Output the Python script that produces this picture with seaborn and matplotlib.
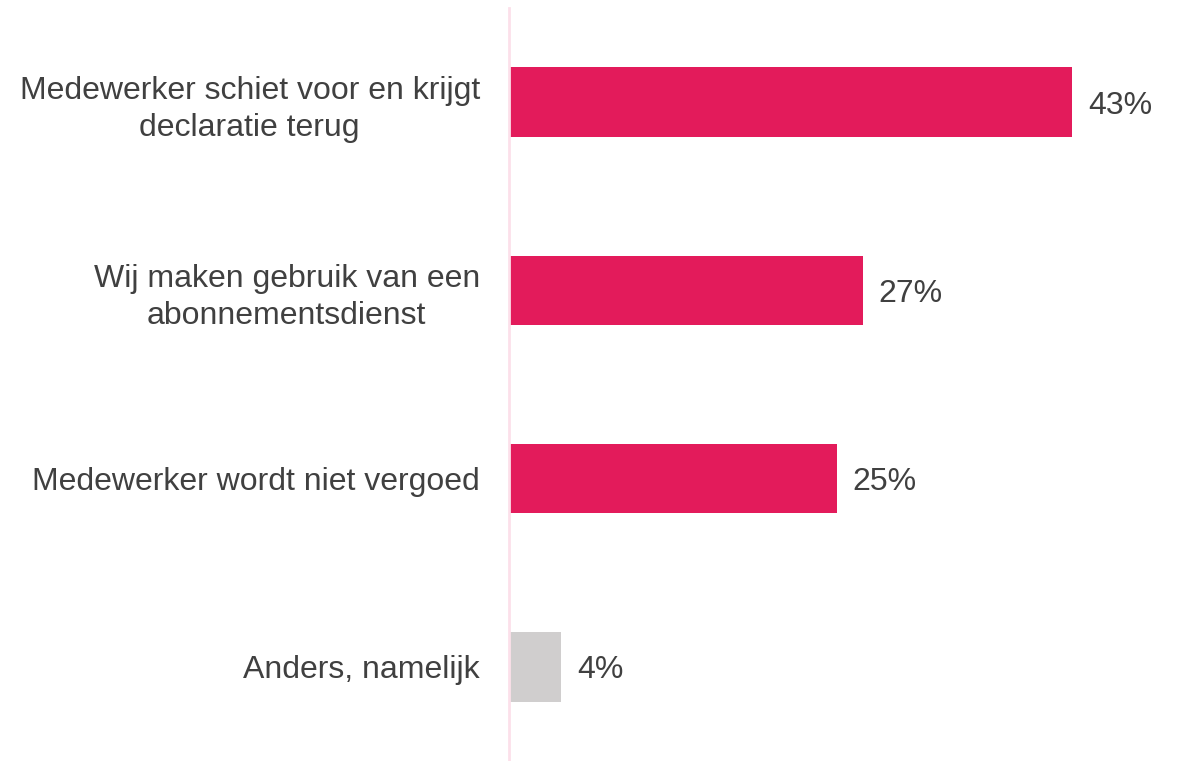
import matplotlib
matplotlib.use("Agg")
import matplotlib.pyplot as plt
import seaborn as sns
import pandas as pd

# data
categories = [
    "Medewerker schiet voor en krijgt\ndeclaratie terug",
    "Wij maken gebruik van een\nabonnementsdienst",
    "Medewerker wordt niet vergoed",
    "Anders, namelijk",
]
values = [43, 27, 25, 4]
colors = ["#E31B5B", "#E31B5B", "#E31B5B", "#D0CECE"]

df = pd.DataFrame({"cat": categories, "val": values})

sns.set_theme(style="white")
plt.rcParams["font.family"] = ["Liberation Sans", "DejaVu Sans"]

fig = plt.figure(figsize=(11.81, 7.61), dpi=100)
ax = fig.add_axes([509 / 1181, 0.0, (1164 - 509) / 1181, 753 / 761])

sns.barplot(data=df, x="val", y="cat", hue="cat", palette=colors,
            legend=False, width=0.37, ax=ax, saturation=1, linewidth=0)

ax.set_xlim(0, 50)
ax.set_ylim(3.5, -0.5)

# value labels
for i, v in enumerate(values):
    ax.text(v + 1.2, i, f"{v}%", va="center_baseline", ha="left",
            fontsize=23, color="#404040")

ax.set_xlabel("")
ax.set_ylabel("")
ax.set_xticks([])
for s in ["top", "right", "bottom"]:
    ax.spines[s].set_visible(False)
ax.spines["left"].set_color("#FCE0EA")
ax.spines["left"].set_linewidth(2)
ax.tick_params(axis="y", length=0, pad=21, labelsize=23, labelcolor="#404040")
for lbl in ax.get_yticklabels():
    lbl.set_multialignment("center")
    lbl.set_linespacing(1.3)
    lbl.set_verticalalignment("center_baseline")

plt.savefig("out.png", dpi=100)
